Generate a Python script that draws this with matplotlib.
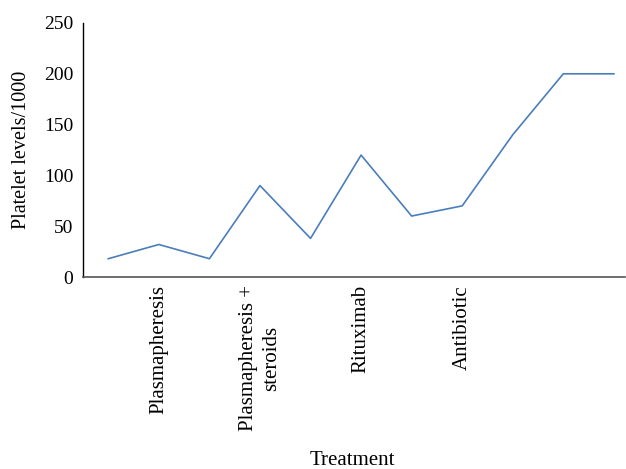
import matplotlib.pyplot as plt
import numpy as np

plt.rcParams['font.family'] = ['Liberation Serif', 'DejaVu Serif']

# platelet count (/1000) at each step, treatment labels on some steps
platelets = [18, 32, 18, 90, 38, 120, 60, 70, 140, 200, 200]
treatments = ["", "Plasmapheresis", "", "Plasmapheresis +\nsteroids", "",
              "Rituximab", "", "Antibiotic", "", "", ""]
y_ticks = [0, 50, 100, 150, 200, 250]

fig = plt.figure(figsize=(6.26, 4.69), dpi=100)
ax = fig.add_axes([83 / 626, 1 - 277 / 469, 542 / 626, 254 / 469])

x = np.arange(len(platelets))
ax.plot(x, platelets, color="#4a7ebb", linewidth=1.2)

ax.set_xlim(-0.5, 10.22)
ax.set_ylim(0, 250)
ax.set_yticks(y_ticks)
ax.set_xticks(x)
ax.set_xticklabels(treatments, rotation=90, ha="center", va="top",
                   fontsize=15, linespacing=1.35)
ax.tick_params(axis="y", length=0, pad=7, labelsize=14)
ax.tick_params(axis="x", length=0, pad=6)

for s in ["top", "right"]:
    ax.spines[s].set_visible(False)
ax.spines["left"].set_color("black")
ax.spines["left"].set_linewidth(1.0)
ax.spines["bottom"].set_color("#555555")
ax.spines["bottom"].set_linewidth(1.2)

fig.text(352 / 626, 1 - 460 / 469, "Treatment", ha="center", va="center", fontsize=15)
fig.text(22 / 626, 1 - 150 / 469, "Platelet levels/1000", ha="center", va="center",
         rotation=90, fontsize=14.5)

fig.savefig("out.png", dpi=100)
